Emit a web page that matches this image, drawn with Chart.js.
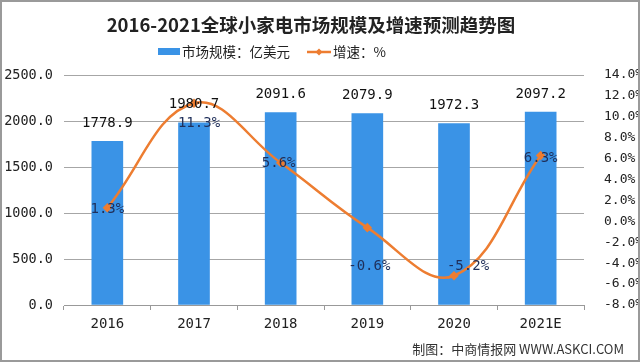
<!DOCTYPE html>
<html>
<head>
<meta charset="utf-8">
<script src="https://cdn.jsdelivr.net/npm/chart.js@4/dist/chart.umd.min.js"></script>
<style>
  html, body { margin: 0; padding: 0; background: #fff; }
</style>
</head>
<body>
<canvas id="c" width="640" height="362"></canvas>
<script>
// data
const years = ['2016', '2017', '2018', '2019', '2020', '2021E'];
const marketSize = [1778.9, 1980.7, 2091.6, 2079.9, 1972.3, 2097.2];   // 亿美元
const growthRate = [1.3, 11.3, 5.6, -0.6, -5.2, 6.3];                 // %

const titleText = '2016-2021全球小家电市场规模及增速预测趋势图';
const legendBar = '市场规模：亿美元';
const legendLine = '增速：%';
const sourceText = '制图：中商情报网 WWW.ASKCI.COM';

const BLUE = '#3A93E6';
const ORANGE = '#ED7D31';
const MONO = '"DejaVu Sans Mono", monospace';
const CJK = '"Noto Sans CJK SC", sans-serif';

// label nudges for the growth labels (like excel placed them)
const lineLabelDx = [0, 5, -2, 2, 14, 0];
const lineLabelDy = [2, 20, 1, 39, -9, 3];

const extras = {
  id: 'extras',
  afterDraw(chart) {
    const ctx = chart.ctx;
    ctx.save();

    // title
    ctx.fillStyle = '#222';
    ctx.font = 'bold 18.5px ' + CJK;
    ctx.textAlign = 'center';
    ctx.textBaseline = 'middle';
    ctx.fillText(titleText, 311, 25);

    // legend
    ctx.font = '13.5px ' + CJK;
    ctx.textAlign = 'left';
    ctx.fillStyle = BLUE;
    ctx.fillRect(158, 48, 22, 7);
    ctx.fillStyle = '#222';
    ctx.fillText(legendBar, 182, 52);
    ctx.strokeStyle = ORANGE;
    ctx.lineWidth = 2.5;
    ctx.beginPath(); ctx.moveTo(307, 52); ctx.lineTo(331, 52); ctx.stroke();
    ctx.fillStyle = ORANGE;
    ctx.beginPath();
    ctx.moveTo(319, 48.5); ctx.lineTo(322.5, 52); ctx.lineTo(319, 55.5); ctx.lineTo(315.5, 52);
    ctx.closePath(); ctx.fill();
    ctx.fillStyle = '#222';
    ctx.fillText(legendLine, 333, 52);

    // bar value labels
    ctx.font = '14px ' + MONO;
    ctx.textAlign = 'center';
    ctx.fillStyle = '#111';
    chart.getDatasetMeta(0).data.forEach((bar, i) => {
      ctx.fillText(marketSize[i].toFixed(1), bar.x, bar.y - 18);
    });

    // growth labels
    ctx.fillStyle = '#1F2F5A';
    chart.getDatasetMeta(1).data.forEach((pt, i) => {
      ctx.fillText(growthRate[i].toFixed(1) + '%', pt.x + lineLabelDx[i], pt.y + lineLabelDy[i]);
    });

    // source
    ctx.font = '13px ' + CJK;
    ctx.fillStyle = '#333';
    ctx.textAlign = 'right';
    ctx.fillText(sourceText, 624, 349);

    // frame
    ctx.strokeStyle = '#9A9A9A';
    ctx.lineWidth = 2;
    ctx.strokeRect(1, 1, 638, 360);
    ctx.restore();
  }
};

new Chart(document.getElementById('c'), {
  data: {
    labels: years,
    datasets: [
      {
        type: 'bar',
        label: legendBar,
        data: marketSize,
        backgroundColor: BLUE,
        barThickness: 31,
        yAxisID: 'y',
        order: 2
      },
      {
        type: 'line',
        label: legendLine,
        data: growthRate,
        borderColor: ORANGE,
        backgroundColor: ORANGE,
        borderWidth: 2.5,
        tension: 0.4,
        pointStyle: 'rectRot',
        pointRadius: 3,
        yAxisID: 'y2',
        order: 1
      }
    ]
  },
  options: {
    responsive: false,
    animation: false,
    layout: { padding: { top: 75, left: 0, right: 0, bottom: 0 } },
    plugins: {
      legend: { display: false },
      title: { display: false },
      tooltip: { enabled: false }
    },
    scales: {
      x: {
        offset: true,
        grid: { drawOnChartArea: false, drawTicks: true, tickLength: 5, color: '#999', offset: true },
        border: { color: '#999' },
        ticks: { color: '#222', padding: 6, font: { family: MONO, size: 14 } },
        afterFit(s) { s.height = 57; }
      },
      y: {
        position: 'left',
        min: 0,
        max: 2500,
        grid: { color: '#A6A6A6', drawTicks: false },
        border: { display: false },
        ticks: {
          stepSize: 500,
          color: '#222',
          padding: 11,
          font: { family: MONO, size: 13.5 },
          callback: v => v.toFixed(1)
        },
        afterFit(s) { s.width = 64; }
      },
      y2: {
        position: 'right',
        min: -8,
        max: 14,
        grid: { display: false },
        border: { display: false },
        ticks: {
          stepSize: 2,
          color: '#222',
          padding: 12,
          font: { family: MONO, size: 13 },
          callback: v => v.toFixed(1) + '%'
        },
        afterFit(s) { s.width = 56; }
      }
    }
  },
  plugins: [extras]
});
</script>
</body>
</html>
